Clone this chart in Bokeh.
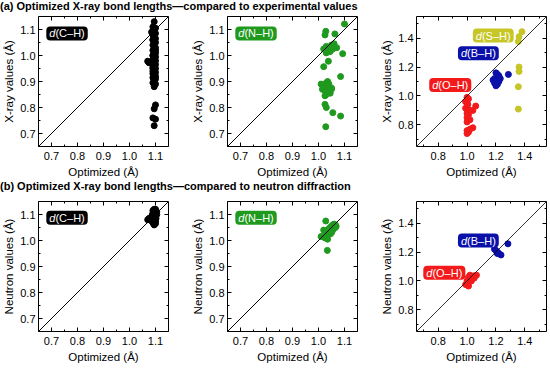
from bokeh.plotting import figure
from bokeh.models import (Label, Slope, LinearAxis, SingleIntervalTicker, PrintfTickFormatter,
                          CustomJSTickFormatter, Range1d, Div)
from bokeh.layouts import column, row
from bokeh.embed import file_html
from bokeh.resources import INLINE

FONT = "Liberation Sans"

# ---------------- data ----------------
# (a) X-ray vs optimized
ch_xray_opt = [1.095, 1.09, 1.10, 1.085, 1.10, 1.09, 1.095, 1.10, 1.09, 1.10, 1.095, 1.09, 1.10, 1.09,
               1.095, 1.10, 1.09, 1.10, 1.095, 1.09, 1.10, 1.07, 1.08, 1.075, 1.09, 1.10, 1.095, 1.09,
               1.10, 1.095, 1.09, 1.10, 1.09, 1.095, 1.10, 1.09, 1.10, 1.095, 1.09, 1.10, 1.095, 1.09,
               1.10, 1.09, 1.095, 1.10, 1.095, 1.09, 1.10, 1.095, 1.09]
ch_xray_exp = [1.13, 1.11, 1.105, 1.09, 1.085, 1.08, 1.07, 1.065, 1.06, 1.05, 1.045, 1.04, 1.03, 1.02,
               1.015, 1.01, 1.00, 0.995, 0.99, 0.985, 0.98, 0.978, 0.975, 0.972, 0.97, 0.965, 0.96, 0.955,
               0.95, 0.945, 0.94, 0.935, 0.93, 0.925, 0.92, 0.915, 0.91, 0.90, 0.895, 0.89, 0.88, 1.00,
               1.02, 1.06, 1.095, 0.81, 0.795, 0.76, 0.755, 0.73, 0.95]

nh_xray_opt = [1.10, 1.028, 1.025, 1.063, 1.03, 1.04, 1.05, 1.055, 1.06, 1.035, 1.045, 1.02, 1.07,
               1.093, 1.038, 1.02, 1.085, 1.01, 1.02, 1.03, 1.04, 1.05, 1.015, 1.025, 1.035, 1.045,
               1.03, 1.02, 1.04, 1.025, 1.035, 1.025, 1.03, 1.055, 1.085, 1.028, 1.05, 1.03, 1.04]
nh_xray_exp = [1.121, 1.093, 1.079, 1.083, 1.035, 1.03, 1.04, 1.025, 1.045, 1.02, 1.015, 1.025, 1.03,
               1.007, 0.978, 0.957, 0.919, 0.89, 0.885, 0.895, 0.88, 0.875, 0.87, 0.865, 0.86, 0.855,
               0.85, 0.875, 0.89, 0.845, 0.90, 0.812, 0.80, 0.78, 0.767, 0.726, 0.87, 1.01, 0.86]

oh_xray_opt = [1.00, 1.01, 1.00, 0.99, 1.00, 1.005, 1.06, 0.99, 1.00, 1.02, 1.04, 1.00, 1.01, 1.00,
               1.02, 1.00, 1.04, 1.02, 1.00, 1.00, 1.01]
oh_xray_exp = [0.99, 0.98, 0.97, 0.96, 0.955, 0.94, 0.93, 0.915, 0.905, 0.90, 0.90, 0.88, 0.87, 0.85,
               0.835, 0.82, 0.78, 0.77, 0.76, 0.74, 0.75]
bh_xray_opt = [1.20, 1.21, 1.22, 1.19, 1.18, 1.20, 1.22, 1.19, 1.21, 1.20, 1.286, 1.23]
bh_xray_exp = [1.16, 1.15, 1.14, 1.12, 1.11, 1.10, 1.10, 1.09, 1.08, 1.07, 1.149, 1.12]
sh_xray_opt = [1.38, 1.36, 1.355, 1.36, 1.36, 1.355, 1.355]
sh_xray_exp = [1.445, 1.41, 1.377, 1.20, 1.17, 1.064, 0.909]

# (b) neutron vs optimized
ch_neut_opt = [1.07, 1.075, 1.08, 1.085, 1.09, 1.09, 1.095, 1.10, 1.095, 1.09, 1.10, 1.10, 1.095,
               1.09, 1.095, 1.10, 1.10, 1.105, 1.105, 1.09, 1.085, 1.08, 1.095, 1.10, 1.092, 1.098,
               1.088, 1.102]
ch_neut_exp = [1.08, 1.085, 1.08, 1.075, 1.09, 1.10, 1.11, 1.12, 1.12, 1.115, 1.105, 1.09, 1.08,
               1.07, 1.06, 1.065, 1.075, 1.10, 1.11, 1.08, 1.09, 1.085, 1.095, 1.115, 1.065, 1.07,
               1.10, 1.085]
nh_neut_opt = [1.028, 1.02, 1.025, 1.03, 1.035, 1.04, 1.045, 1.05, 1.055, 1.06, 1.065, 1.068, 1.06,
               1.05, 1.04, 1.03, 1.025, 1.035, 1.045, 1.055, 1.034, 1.01, 1.05, 1.065]
nh_neut_exp = [1.075, 1.04, 1.035, 1.03, 1.04, 1.045, 1.05, 1.055, 1.06, 1.063, 1.06, 1.055, 1.05,
               1.045, 1.035, 1.02, 1.01, 1.005, 1.025, 1.04, 0.962, 1.015, 1.03, 1.05]
oh_neut_opt = [1.00, 0.99, 1.005, 1.01, 1.00, 1.02, 1.01, 1.03, 1.05, 1.065, 1.045, 1.00]
oh_neut_exp = [0.985, 0.975, 0.97, 0.965, 1.00, 1.04, 1.025, 1.00, 1.02, 1.04, 1.035, 0.98]
bh_neut_opt = [1.19, 1.20, 1.21, 1.22, 1.235, 1.21, 1.283]
bh_neut_exp = [1.22, 1.21, 1.20, 1.19, 1.18, 1.19, 1.257]

small_range = (0.65, 1.15)
big_range = (0.65, 1.55)

BLACK = "#000000"
GREEN = "#1f9a1f"
RED = "#f21a1a"
BLUE = "#0a10a8"
YELLOW = "#c6c626"

FRAME = 130


def make_fig(rng, interval, ylabel, left, right, top, bottom):
    p = figure(frame_width=FRAME, frame_height=FRAME, output_backend="svg", toolbar_location=None,
               x_range=Range1d(*rng), y_range=Range1d(*rng),
               min_border_left=left, min_border_right=right, min_border_top=top,
               min_border_bottom=bottom, x_axis_location=None, y_axis_location=None)
    p.grid.visible = False
    p.outline_line_color = "black"
    p.outline_line_width = 1
    p.background_fill_color = "white"
    p.border_fill_color = "white"
    for place, lab in (("left", ylabel), ("below", "Optimized (Å)"), ("right", None), ("above", None)):
        ax = LinearAxis(ticker=SingleIntervalTicker(interval=interval, num_minor_ticks=2))
        ax.axis_line_color = None
        ax.major_tick_in = 4
        ax.major_tick_out = 0
        ax.minor_tick_in = 2
        ax.minor_tick_out = 0
        ax.major_tick_line_color = "black"
        ax.minor_tick_line_color = "black"
        if lab is None:
            ax.formatter = CustomJSTickFormatter(code="return ''")
            ax.major_label_standoff = 0
        else:
            ax.formatter = PrintfTickFormatter(format="%.1f")
            ax.axis_label = lab
            ax.axis_label_text_font = FONT
            ax.axis_label_text_font_size = "11.5px"
            ax.axis_label_text_font_style = "normal"
            ax.axis_label_text_color = "black"
            ax.major_label_text_font = FONT
            ax.major_label_text_font_size = "11px"
            ax.major_label_text_color = "black"
            if place == "below":
                ax.axis_label_standoff = 3
                ax.major_label_standoff = 5
            else:
                ax.axis_label_standoff = 2
                ax.major_label_standoff = 3
        p.add_layout(ax, place)
    return p


def tag(p, x, y, bond, color):
    p.add_layout(Label(x=x, y=y, text="\u00a0\u00a0(" + bond + ")", text_color="white",
                       text_font=FONT, text_font_size="11px", anchor="center_left",
                       background_fill_color=color, border_radius=4,
                       padding=dict(left=3, right=3, top=1, bottom=1)))
    p.add_layout(Label(x=x, y=y, x_offset=3, text="d", text_color="white", text_font=FONT,
                       text_font_size="11px", text_font_style="italic", anchor="center_left"))


def pts(p, xs, ys, color, size=6):
    p.scatter(xs, ys, size=size, color=color, line_color=color)


L, R1, R3 = 33, 21, 1
# row 1
f1 = make_fig(small_range, 0.1, "X-ray values (Å)", L, R1, 3, 31)
f1.add_layout(Slope(gradient=1, y_intercept=0, line_color="black", line_width=1))
pts(f1, ch_xray_opt, ch_xray_exp, BLACK)
tag(f1, 0.68, 1.085, "C–H", BLACK)

f2 = make_fig(small_range, 0.1, "X-ray values (Å)", L, R1, 3, 31)
f2.add_layout(Slope(gradient=1, y_intercept=0, line_color="black", line_width=1))
pts(f2, nh_xray_opt, nh_xray_exp, GREEN)
tag(f2, 0.68, 1.085, "N–H", GREEN)

f3 = make_fig(big_range, 0.2, "X-ray values (Å)", L, R3, 3, 31)
f3.add_layout(Slope(gradient=1, y_intercept=0, line_color="black", line_width=0.8))
pts(f3, oh_xray_opt, oh_xray_exp, RED)
pts(f3, bh_xray_opt, bh_xray_exp, BLUE)
pts(f3, sh_xray_opt, sh_xray_exp, YELLOW)
tag(f3, 0.738, 1.075, "O–H", RED)
tag(f3, 0.937, 1.295, "B–H", BLUE)
tag(f3, 1.04, 1.418, "S–H", YELLOW)

# row 2
f4 = make_fig(small_range, 0.1, "Neutron values (Å)", L, R1, 6, 32)
f4.add_layout(Slope(gradient=1, y_intercept=0, line_color="black", line_width=1))
pts(f4, ch_neut_opt, ch_neut_exp, BLACK)
tag(f4, 0.68, 1.0875, "C–H", BLACK)

f5 = make_fig(small_range, 0.1, "Neutron values (Å)", L, R1, 6, 32)
f5.add_layout(Slope(gradient=1, y_intercept=0, line_color="black", line_width=1))
pts(f5, nh_neut_opt, nh_neut_exp, GREEN)
tag(f5, 0.68, 1.0875, "N–H", GREEN)

f6 = make_fig(big_range, 0.2, "Neutron values (Å)", L, R3, 6, 32)
f6.add_layout(Slope(gradient=1, y_intercept=0, line_color="black", line_width=0.8))
pts(f6, oh_neut_opt, oh_neut_exp, RED)
pts(f6, bh_neut_opt, bh_neut_exp, BLUE)
tag(f6, 0.697, 1.056, "O–H", RED)
tag(f6, 0.937, 1.28, "B–H", BLUE)

div_style = {"font-family": FONT, "font-size": "11px", "font-weight": "bold",
             "line-height": "13px", "color": "black"}
div_a = Div(text="(a) Optimized X-ray bond lengths—compared to experimental values",
            width=534, height=13, styles=div_style, margin=0)
div_b = Div(text="(b) Optimized X-ray bond lengths—compared to neutron diffraction",
            width=534, height=15, styles=div_style, margin=0)

layout = column(div_a, row(f1, f2, f3, spacing=0), div_b, row(f4, f5, f6, spacing=0), spacing=0)

open("out.html", "w").write(file_html(layout, INLINE))
